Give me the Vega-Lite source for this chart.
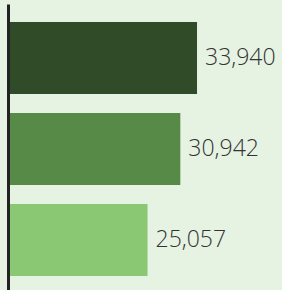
{
  "$schema": "https://vega.github.io/schema/vega-lite/v6.json",
  "autosize": "none",
  "padding": {"top": 4, "left": 8, "right": 0, "bottom": 0},
  "width": 274,
  "height": 290,
  "background": "#e6f2e2",
  "config": {"view": {"stroke": null}},
  "data": {"values": [
    {"cat": "A", "value": 33940, "color": "#2f4b27"},
    {"cat": "B", "value": 30942, "color": "#568a46"},
    {"cat": "C", "value": 25057, "color": "#8bc874"}
  ]},
  "encoding": {
    "y": {"field": "cat", "type": "nominal", "sort": null,
      "scale": {"paddingInner": 0.209, "paddingOuter": 0.198},
      "axis": {"title": null, "labels": false, "ticks": false, "domainColor": "#222222", "domainWidth": 3, "zindex": 1}},
    "x": {"field": "value", "type": "quantitative",
      "scale": {"domain": [0, 49200], "nice": false},
      "axis": null}
  },
  "layer": [
    {"mark": {"type": "bar"},
     "encoding": {"color": {"field": "color", "type": "nominal", "scale": null}}},
    {"mark": {"type": "text", "align": "left", "baseline": "middle", "dx": 8, "fontSize": 23, "font": "Open Sans", "fontWeight": 300, "color": "#333333"},
     "encoding": {"text": {"field": "value", "type": "quantitative", "format": ","}}}
  ]
}
